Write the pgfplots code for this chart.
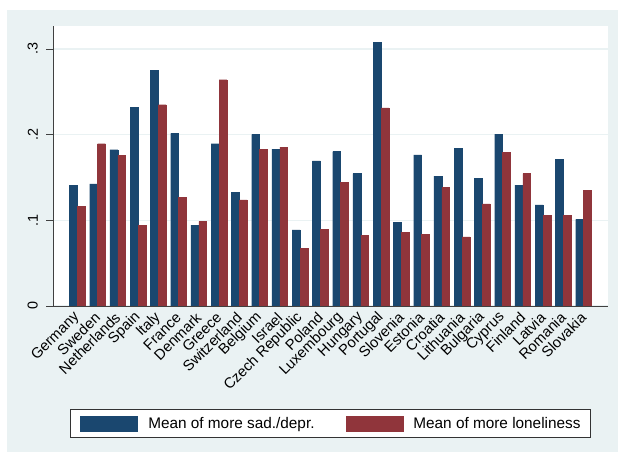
\documentclass[border=0pt]{standalone}
\usepackage{pgfplots}
\pgfplotsset{compat=1.18}
\usepackage{pgfplotstable}
\usepackage{fontspec}
\setmainfont{Liberation Sans}
\definecolor{stnavy}{RGB}{26,71,111}
\definecolor{stmaroon}{RGB}{144,53,59}
\definecolor{stbg}{RGB}{234,242,243}
\pgfplotstableread{
x sad lone
0 0.1408 0.1159
1 0.1424 0.1894
2 0.1824 0.1762
3 0.2318 0.0945
4 0.2750 0.2349
5 0.2015 0.1268
6 0.0945 0.0988
7 0.1894 0.2641
8 0.1330 0.1240
9 0.2003 0.1832
10 0.1832 0.1855
11 0.0887 0.0673
12 0.1694 0.0898
13 0.1803 0.1446
14 0.1546 0.0828
15 0.3081 0.2312
16 0.0979 0.0858
17 0.1764 0.0839
18 0.1516 0.1383
19 0.1838 0.0808
20 0.1492 0.1193
21 0.2005 0.1795
22 0.1410 0.1546
23 0.1181 0.1061
24 0.1714 0.1061
25 0.1010 0.1352
}\datatable
\begin{document}
\begin{tikzpicture}[x=1bp,y=1bp]
\useasboundingbox (0,0) rectangle (618,452);
\fill[white] (0,0) rectangle (618,452);
\fill[stbg] (7,0) rectangle (618,442);
\begin{axis}[
  at={(53bp,146bp)}, anchor=south west,
  scale only axis, width=555bp, height=280bp,
  xmin=-1.2, xmax=26.21, ymin=0, ymax=0.3268,
  axis background/.style={fill=white},
  ybar=0pt, bar width=7.8bp,
  axis x line*=bottom, axis y line*=left,
  axis line style={black!75, line width=0.7bp},
  xtick={0,...,25},
  xticklabels={Germany,Sweden,Netherlands,Spain,Italy,France,Denmark,Greece,Switzerland,Belgium,Israel,Czech Republic,Poland,Luxembourg,Hungary,Portugal,Slovenia,Estonia,Croatia,Lithuania,Bulgaria,Cyprus,Finland,Latvia,Romania,Slovakia},
  xticklabel style={rotate=45, anchor=east, inner sep=0pt, xshift=-1.8bp, yshift=-1.8bp, font=\fontsize{14.8}{16}\selectfont},
  major x tick style={draw=none},
  ytick={0,0.1,0.2,0.3}, yticklabels={0,.1,.2,.3},
  yticklabel style={rotate=90, anchor=south, inner sep=0pt, yshift=8.5bp, font=\fontsize{14.4}{16}\selectfont},
  major y tick style={black!75, line width=0.7bp},
  tick align=outside, major tick length=6.5bp,
  ymajorgrids, grid style={stbg, line width=1.2bp},
  legend image code/.code={\fill[#1] (0bp,-7.6bp) rectangle (57bp,7.6bp);},
  legend style={at={(0.5,-0.4203)}, anchor=center, legend columns=2,
    draw=black!80, line width=0.8bp, fill=white, inner xsep=10bp, inner ysep=6bp,
    font=\fontsize{15.4}{17}\selectfont, nodes={inner sep=0pt},
    /tikz/every odd column/.append style={column sep=10bp},
    /tikz/every even column/.append style={column sep=31bp}},
]
\addplot[fill=stnavy, draw=stnavy] table[x=x, y=sad] {\datatable};
\addlegendentry{Mean of more sad./depr.}
\addplot[fill=stmaroon, draw=stmaroon] table[x=x, y=lone] {\datatable};
\addlegendentry{Mean of more loneliness}
\end{axis}
\end{tikzpicture}
\end{document}
